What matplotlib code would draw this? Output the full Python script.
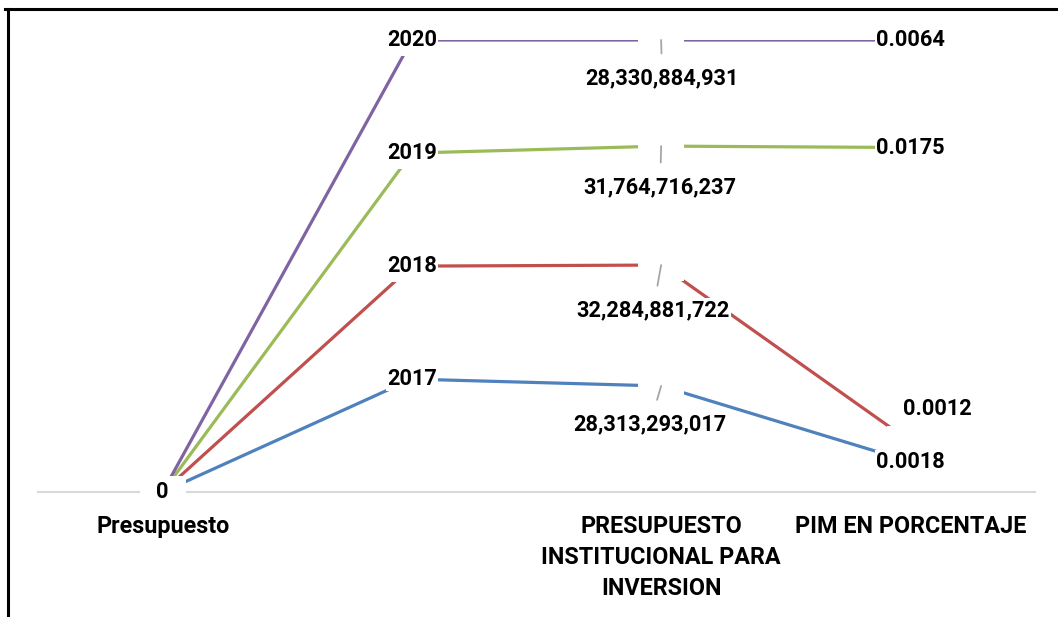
import numpy as np
import matplotlib
matplotlib.use("Agg")
import matplotlib.pyplot as plt
from matplotlib.lines import Line2D

plt.rcParams['font.family'] = ['Roboto', 'DejaVu Sans']
plt.rcParams['font.weight'] = 'bold'

# data (100% stacked line chart, as in the original Excel chart)
categories = ["Presupuesto", "", "PRESUPUESTO\nINSTITUCIONAL PARA\nINVERSION", "PIM EN PORCENTAJE"]
series_names = ["2017", "2018", "2019", "2020"]
presupuesto = [0, 0, 0, 0]
anio = [2017, 2018, 2019, 2020]
presupuesto_inversion = [28313293017, 32284881722, 31764716237, 28330884931]
pim_porcentaje = [0.0018, 0.0012, 0.0175, 0.0064]

colors = ["#4F81BD", "#C0504D", "#9BBB59", "#8064A2"]

# label offsets in pixels (column 2 labels sit under the points with leader lines)
label_offsets = {
    (0, 2): (-11, -38), (1, 2): (-8, -45), (2, 2): (-1, -41), (3, 2): (1, -38),
    (1, 3): (27, 33),
}

values = np.array([presupuesto, anio, presupuesto_inversion, pim_porcentaje], dtype=float).T
totals = values.sum(axis=0)
shares = np.divide(values, totals, out=np.zeros_like(values), where=totals != 0)
stacked = np.cumsum(shares, axis=0)

def fmt(col, v):
    if col == 0:
        return f"{v:.0f}"
    if col == 1:
        return f"{int(v)}"
    if col == 2:
        return f"{int(v):,}"
    return f"{v:.4f}"

fig = plt.figure(figsize=(10.58, 6.17), dpi=100)
ax = fig.add_axes([38 / 1058, 125 / 617, 997 / 1058, 452 / 617])
x = np.arange(len(categories))

knockout = [(-23, -16), (23, -16), (23, 16), (-23, 16), (-23, -16)]
for i, name in enumerate(series_names):
    ax.plot(x, stacked[i], color=colors[i], lw=2.3, zorder=2, solid_capstyle='butt')
for i, name in enumerate(series_names):
    ax.plot(x, stacked[i], ls='none', marker=knockout, markersize=33,
            markerfacecolor='white', markeredgewidth=0, zorder=3)

fs = 15.7
for i in range(len(series_names)):
    for j in range(len(categories)):
        off = label_offsets.get((i, j), (0, 0))
        kw = {}
        if j == 2:
            kw['arrowprops'] = dict(arrowstyle='-', color='#A6A6A6', lw=1.3,
                                    shrinkA=9, shrinkB=0)
        ax.annotate(fmt(j, values[i, j]), (x[j], stacked[i, j]), xytext=off,
                    textcoords='offset pixels', ha='center', va='center',
                    fontsize=fs, fontweight='bold', color='black', zorder=5,
                    bbox=dict(boxstyle='square,pad=0.05', fc='white', ec='none'),
                    **kw)

ax.set_xlim(-0.5, 3.5)
ax.set_ylim(0, 1)
ax.set_xticks(x)
ax.set_xticklabels(categories, fontsize=16.8, fontweight='bold', linespacing=1.45)
ax.tick_params(axis='x', length=0, pad=16.5)
ax.set_yticks([])
for s in ['top', 'left', 'right']:
    ax.spines[s].set_visible(False)
ax.spines['bottom'].set_color('#D9D9D9')
ax.spines['bottom'].set_linewidth(1.5)
ax.spines['bottom'].set_zorder(1)
ax.patch.set_alpha(0)

# outer frame (cropped Excel chart border)
fig.add_artist(Line2D([5 / 1058, 1.0], [1 - 9 / 617, 1 - 9 / 617], color='black', lw=2.2,
                      transform=fig.transFigure))
fig.add_artist(Line2D([8 / 1058, 8 / 1058], [0, 1 - 9 / 617], color='black', lw=2.2,
                      transform=fig.transFigure))

fig.savefig("out.png", dpi=100)
